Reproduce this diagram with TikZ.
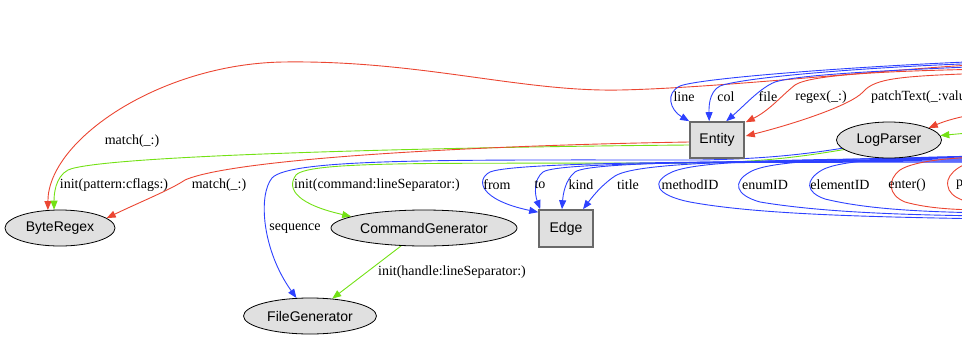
\documentclass[tikz,border=0pt]{standalone}
\usepackage{fontspec}
\setmainfont{Liberation Serif}
\newfontfamily\nodefont{Liberation Sans}
\usetikzlibrary{shapes.geometric,arrows.meta,calc}
\definecolor{eblue}{RGB}{45,65,255}
\definecolor{ered}{RGB}{235,70,50}
\definecolor{egreen}{RGB}{115,225,20}
\definecolor{nfill}{RGB}{224,224,224}
\definecolor{nborder}{RGB}{105,105,105}
\pgfdeclarelayer{bg}
\pgfsetlayers{bg,main}
\tikzset{
  boxnode/.style={rectangle,draw=nborder,line width=1.6pt,fill=nfill,minimum width=54pt,minimum height=36pt,inner sep=0pt,font=\nodefont\fontsize{14}{16}\selectfont},
  ellnode/.style={ellipse,draw=black,line width=0.8pt,fill=nfill,minimum height=36pt,inner sep=0pt,font=\nodefont\fontsize{14}{16}\selectfont},
  lbl/.style={inner sep=0pt,font=\fontsize{14}{16}\selectfont},
  conn/.style={line width=0.9pt},
  arr/.style={conn,-{Triangle[length=9pt,width=7pt]}},
  bl/.style={draw=eblue},
  rd/.style={draw=ered},
  gr/.style={draw=egreen},
}
\begin{document}
\begin{tikzpicture}[x=1pt,y=-1pt]
\useasboundingbox (0,0) rectangle (962,362);
% nodes
\node[boxnode] (Entity) at (717,140) {Entity};
\node[ellnode,minimum width=105pt] (LogParser) at (889,140) {LogParser};
\node[ellnode,minimum width=110pt] (ByteRegex) at (60,228) {ByteRegex};
\node[ellnode,minimum width=186pt] (CommandGenerator) at (424,228) {CommandGenerator};
\node[boxnode,minimum height=37pt] (Edge) at (566,228.5) {Edge};
\node[ellnode,minimum width=133pt] (FileGenerator) at (310,316) {FileGenerator};

% off-canvas ends
\coordinate (rMatch) at (990,64);
\coordinate (rLine) at (990,61);
\coordinate (rCol) at (990,63);
\coordinate (rFile) at (990,66);
\coordinate (rRegex) at (990,69);
\coordinate (rPatch) at (990,73);
\coordinate (rLPred) at (990,112);
\coordinate (rLPgreen) at (990,131);
\coordinate (rFrom) at (990,161);
\coordinate (rTo) at (990,162);
\coordinate (rKind) at (990,160);
\coordinate (rTitle) at (990,159);
\coordinate (rMethodA) at (990,158);
\coordinate (rMethodB) at (990,219);
\coordinate (rEnumA) at (990,157);
\coordinate (rEnumB) at (990,216);
\coordinate (rElemA) at (990,156);
\coordinate (rElemB) at (990,213);
\coordinate (rEnterA) at (990,157);
\coordinate (rEnterB) at (990,210);
\coordinate (rPA) at (990,158);
\coordinate (rPB) at (990,205);

% labels
\node[lbl] (lMatchA) at (132,141) {match(\_:)};
\node[lbl] (lInitPat) at (114,185) {init(pattern:cflags:)};
\node[lbl] (lMatchB) at (219,185) {match(\_:)};
\node[lbl] (lInitCmd) at (377,185) {init(command:lineSeparator:)};
\node[lbl] (lSeq) at (295,229) {sequence};
\node[lbl] (lInitHandle) at (452,272) {init(handle:lineSeparator:)};
\node[lbl] (lFrom) at (497,185) {from};
\node[lbl] (lTo) at (540,185) {to};
\node[lbl] (lKind) at (581,185) {kind};
\node[lbl] (lTitle) at (628,185) {title};
\node[lbl] (lMethod) at (690,185) {methodID};
\node[lbl] (lEnum) at (765,185) {enumID};
\node[lbl] (lElem) at (840,185) {elementID};
\node[lbl] (lEnter) at (907,185) {enter()};
\node[lbl,anchor=west] (lP) at (956,185) {p};
\node[lbl] (lLine) at (684,97) {line};
\node[lbl] (lCol) at (726,97) {col};
\node[lbl] (lFile) at (768,97) {file};
\node[lbl] (lRegex) at (821,97) {regex(\_:)};
\node[lbl,anchor=west] (lPatch) at (871,97) {patchText(\_:valu};

\begin{pgfonlayer}{bg}
% to ByteRegex
\draw[arr,rd] (rMatch) .. controls (900,68) and (720,88) .. (620,90)
   .. controls (520,92) and (420,60) .. (283,62)
   .. controls (160,64) and (48,140) .. (ByteRegex.124);
\draw[arr,gr] ($(Entity.west)+(0,5)$) .. controls (450,147) and (100,155) .. (68,170)
   .. controls (55,177) and (54,195) .. (ByteRegex.108);
\draw[arr,rd] ($(Entity.west)+(0,2)$) .. controls (450,146) and (230,160) .. (185,180)
   .. controls (170,190) and (140,202) .. (ByteRegex.12);
% from LogParser
\draw[arr,bl] (LogParser.190) .. controls (800,155) and (760,159) .. (700,160)
   .. controls (450,160) and (290,158) .. (272,178)
   .. controls (258,195) and (262,250) .. (FileGenerator.127);
\draw[arr,gr] (LogParser.192) .. controls (800,157) and (760,162) .. (700,163)
   .. controls (450,164) and (310,160) .. (296,175)
   .. controls (285,190) and (300,205) .. (CommandGenerator.171);
\draw[arr,gr] (CommandGenerator.218) -- (FileGenerator.38);
% to Edge
\draw[arr,bl] (rFrom) .. controls (800,162) and (520,160) .. (490,172)
   .. controls (475,180) and (480,200) .. ($(Edge.north west)+(0,3)$);
\draw[arr,bl] (rTo) .. controls (800,163) and (560,160) .. (543,172)
   .. controls (533,180) and (535,195) .. ($(Edge.north west)+(2,0)$);
\draw[arr,bl] (rKind) .. controls (800,161) and (590,160) .. (575,172)
   .. controls (565,180) and (563,195) .. ($(Edge.north)+(-4,0)$);
\draw[arr,bl] (rTitle) .. controls (800,160) and (640,160) .. (615,176)
   .. controls (600,186) and (590,200) .. ($(Edge.north)+(17,0)$);
% loops
\draw[conn,bl] (rMethodA) .. controls (800,159) and (700,160) .. (672,172)
   .. controls (650,182) and (655,195) .. (690,202)
   .. controls (760,215) and (880,217) .. (rMethodB);
\draw[conn,bl] (rEnumA) .. controls (850,158) and (770,160) .. (750,172)
   .. controls (732,182) and (735,195) .. (760,202)
   .. controls (820,212) and (900,215) .. (rEnumB);
\draw[conn,bl] (rElemA) .. controls (900,157) and (840,160) .. (822,170)
   .. controls (805,180) and (805,192) .. (825,199)
   .. controls (870,210) and (930,212) .. (rElemB);
\draw[conn,rd] (rEnterA) .. controls (960,157) and (915,160) .. (900,170)
   .. controls (887,180) and (888,195) .. (905,202)
   .. controls (930,209) and (960,210) .. (rEnterB);
\draw[conn,rd] (rPA) .. controls (970,160) and (952,168) .. (948,180)
   .. controls (945,195) and (960,203) .. (rPB);
% to Entity
\draw[arr,bl] (rLine) .. controls (860,66) and (700,78) .. (680,86)
   .. controls (665,93) and (670,110) .. (Entity.north west);
\draw[arr,bl] (rCol) .. controls (860,67) and (740,78) .. (720,86)
   .. controls (708,92) and (709,110) .. ($(Entity.north west)+(20,0)$);
\draw[arr,bl] (rFile) .. controls (900,70) and (800,74) .. (775,82)
   .. controls (760,88) and (745,105) .. ($(Entity.north west)+(37,0)$);
\draw[arr,rd] (rRegex) .. controls (880,71) and (810,75) .. (795,85)
   .. controls (780,97) and (770,110) .. ($(Entity.north east)+(1,1)$);
\draw[arr,rd] (rPatch) .. controls (900,76) and (875,78) .. (863,92)
   .. controls (850,106) and (790,125) .. ($(Entity.east)+(1,-4)$);
% to LogParser
\draw[arr,rd] (rLPred) .. controls (960,116) and (945,121) .. (LogParser.17);
\draw[arr,gr] (rLPgreen) -- (LogParser.5);
\end{pgfonlayer}
\end{tikzpicture}
\end{document}
